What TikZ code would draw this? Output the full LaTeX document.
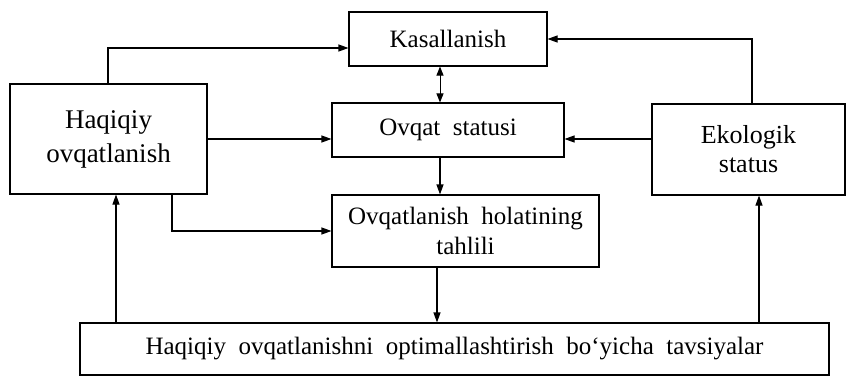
\documentclass[tikz,border=0pt]{standalone}
\usepackage{fontspec}
\setmainfont{Liberation Serif}
\usetikzlibrary{arrows.meta,calc}
\begin{document}
\begin{tikzpicture}[x=1pt,y=-1pt,
  box/.style={draw,line width=1.1pt,inner sep=0pt,align=center,font=\fontsize{25}{30}\selectfont},
  arr/.style={line width=1.1pt,-{Triangle[length=10pt,width=7pt]}},
  darr/.style={line width=1pt,{Triangle[length=9pt,width=7pt]}-{Triangle[length=9pt,width=7pt]}}]
\useasboundingbox (0,0) rectangle (846,377);
\node[box,minimum width=198pt,minimum height=54pt] (kas) at (448,39) {Kasallanish};
\node[box,minimum width=197pt,minimum height=110pt,font=\fontsize{27}{34}\selectfont] (hq) at (108.5,139) {Haqiqiy\\ovqatlanish};
\node[box,minimum width=232pt,minimum height=54pt] (ovq) at (448,130) {Ovqat\ \ statusi};
\node[box,minimum width=193pt,minimum height=91pt,font=\fontsize{26}{29}\selectfont] (eko) at (748.5,149.5) {Ekologik\\status};
\node[box,minimum width=267pt,minimum height=72pt] (hol) at (465.5,231) {Ovqatlanish\ \ holatining\\tahlili};
\node[box,minimum width=749pt,minimum height=52pt] (bot) at (454.5,349) {Haqiqiy\ \ ovqatlanishni\ \ optimallashtirish\ \ bo‘yicha\ \ tavsiyalar};
\coordinate (xa) at (108,0);
\coordinate (xb) at (752,0);
\coordinate (xc) at (172,0);
\coordinate (xd) at (116,0);
\coordinate (xe) at (759,0);
\coordinate (xf) at (440,0);
\coordinate (xg) at (437,0);
\draw[arr] (xa |- hq.north) |- ($(kas.west)+(0,9)$);
\draw[arr] (xb |- eko.north) |- (kas.east);
\draw[arr] (hq.east) -- (hq.east -| ovq.west);
\draw[arr] (eko.west |- hq.east) -- (ovq.east |- hq.east);
\draw[arr] (xc |- hq.south) |- (hol.west);
\draw[arr] (xd |- bot.north) -- (xd |- hq.south);
\draw[arr] (xe |- bot.north) -- (xe |- eko.south);
\draw[darr] (xf |- kas.south) -- (xf |- ovq.north);
\draw[arr] (xf |- ovq.south) -- (xf |- hol.north);
\draw[arr] (xg |- hol.south) -- (xg |- bot.north);
\end{tikzpicture}
\end{document}
